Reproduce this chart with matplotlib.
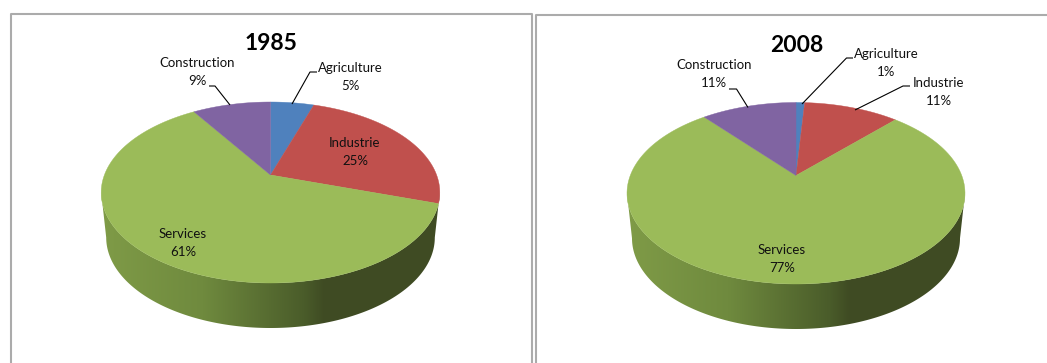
"""
Share of employment by sector, 1985 and 2008, as two tilted 3D-style pies.
"""

import matplotlib

matplotlib.use("Agg")

import matplotlib.pyplot as plt
import numpy as np
from matplotlib.colors import LinearSegmentedColormap
from matplotlib.patches import Polygon

plt.rcParams["font.family"] = ["Lato", "DejaVu Sans"]

# order runs clockwise from 12 o'clock
sectors = ["Agriculture", "Industrie", "Services", "Construction"]
sector_colors = ["#4F81BD", "#C0504D", "#9BBB59", "#8064A2"]

years = ["1985", "2008"]
shares_1985 = [5, 25, 61, 9]
shares_2008 = [1, 11, 77, 11]

WIDTH, HEIGHT = 1047, 363
DEPTH = 45
LABEL_SIZE = 9.5

side_cmap = LinearSegmentedColormap.from_list(
    "pie_side",
    [(0.0, "#7F9B47"), (0.30, "#6F8A3E"), (0.60, "#4A5C2A"),
     (0.66, "#3F4B23"), (1.0, "#404C24")],
)


def tilt_factor(ry_top, ry_bottom):
    return (ry_bottom - ry_top) / (ry_bottom + ry_top)


def project(theta, cx, cy, rx, ry_top, ry_bottom):
    """
    Map disc angle (clockwise from top) to pixels, with a perspective
    so that the centre sits above the middle of the ellipse.
    """

    u = np.sin(theta)
    v = np.cos(theta)
    k = tilt_factor(ry_top, ry_bottom)
    w = 1 + k * v
    a = rx * np.sqrt(1 - k ** 2)
    b = ry_top * (1 + k)

    return cx + a * u / w, cy - b * v / w


def draw_side(ax, cx, cy, rx, ry_top, ry_bottom):
    """
    Draw the rim of the pie with a horizontal gradient.
    """

    # sweep between the left and right extremes of the projected ellipse
    extreme = np.arccos(-tilt_factor(ry_top, ry_bottom))
    theta = np.linspace(extreme, 2 * np.pi - extreme, 200)

    top_x, top_y = project(theta, cx, cy, rx, ry_top, ry_bottom)
    low_x, low_y = project(theta, cx, cy, rx - 5, ry_top, ry_bottom)
    low_y = low_y + DEPTH

    outline = np.column_stack(
        [np.r_[top_x, low_x[::-1]], np.r_[top_y, low_y[::-1]]]
    )
    patch = Polygon(outline, closed=True, facecolor="none", edgecolor="none")
    ax.add_patch(patch)

    gradient = np.linspace(0, 1, 256).reshape(1, -1)
    image = ax.imshow(
        gradient,
        cmap=side_cmap,
        aspect="auto",
        extent=(cx - rx, cx + rx, low_y.max() + 2, cy),
        interpolation="bilinear",
    )
    image.set_clip_path(patch)


def draw_pie(ax, shares, cx, cy, rx, ry_top, ry_bottom):
    """
    Draw the rim, then one wedge per sector on the top face.
    """

    draw_side(ax, cx, cy, rx, ry_top, ry_bottom)

    edges = np.cumsum([0] + list(shares)) / sum(shares) * 2 * np.pi

    for start, end, color in zip(edges[:-1], edges[1:], sector_colors):
        theta = np.linspace(start, end, 160)
        x, y = project(theta, cx, cy, rx, ry_top, ry_bottom)
        points = np.column_stack([np.r_[cx, x], np.r_[cy, y]])
        ax.add_patch(
            Polygon(points, closed=True, facecolor=color, edgecolor=color,
                    linewidth=0.3)
        )


def draw_label(ax, x, y, name, share):
    """
    Draw a two-line sector label centred on x.
    """

    ax.text(x, y, f"{name}\n{share}%", ha="center", va="center",
            fontsize=LABEL_SIZE, color="#111111", linespacing=1.65)


def draw_leader(ax, xs, ys):
    """
    Draw a thin black leader line from a label to its slice.
    """

    ax.plot(xs, ys, color="black", linewidth=0.8, solid_capstyle="butt")


fig = plt.figure(figsize=(WIDTH / 100, HEIGHT / 100), dpi=100)
ax = fig.add_axes([0, 0, 1, 1])

# chart frames, open at the bottom of the figure
frame_color = "#ABABAB"
ax.plot([10.5, 10.5, 532, 532], [363, 13.5, 13.5, 363],
        color=frame_color, linewidth=1.5)
ax.plot([536, 536, 1047], [363, 14.5, 14.5],
        color=frame_color, linewidth=1.5)

draw_pie(ax, shares_1985, 270.5, 175, 169.3, 73, 108)
draw_pie(ax, shares_2008, 796, 175.5, 169, 73, 108.5)

ax.text(270.5, 44, years[0], ha="center", va="center", fontsize=16.5,
        fontweight="bold", color="black")
ax.text(797, 46, years[1], ha="center", va="center", fontsize=16.5,
        fontweight="bold", color="black")

draw_label(ax, 197, 72, sectors[3], shares_1985[3])
draw_label(ax, 350.5, 77, sectors[0], shares_1985[0])
draw_label(ax, 355, 152, sectors[1], shares_1985[1])
draw_label(ax, 183, 243, sectors[2], shares_1985[2])

draw_label(ax, 714, 74, sectors[3], shares_2008[3])
draw_label(ax, 886, 63, sectors[0], shares_2008[0])
draw_label(ax, 939, 92, sectors[1], shares_2008[1])
draw_label(ax, 782, 259, sectors[2], shares_2008[2])

draw_leader(ax, [209, 215, 230], [86, 86, 105])
draw_leader(ax, [317, 310, 292], [72, 72, 104])
draw_leader(ax, [729, 736.5, 748], [89, 89, 107.5])
draw_leader(ax, [853, 846.5, 802], [58, 58, 104])
draw_leader(ax, [910, 903, 855], [86, 86, 110])

ax.set_xlim(0, WIDTH)
ax.set_ylim(HEIGHT, 0)
ax.axis("off")

fig.savefig("out.png", dpi=100)
plt.close(fig)
